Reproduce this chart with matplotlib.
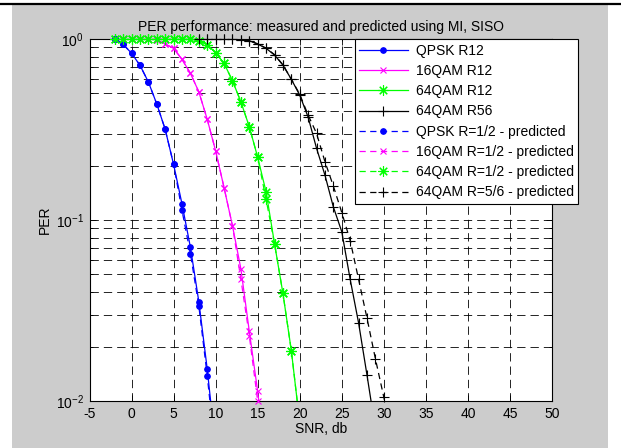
import matplotlib
matplotlib.use("Agg")
import matplotlib.pyplot as plt
from matplotlib.patches import Rectangle
from matplotlib.lines import Line2D
import numpy as np

plt.rcParams['font.family'] = ['Liberation Sans', 'DejaVu Sans']
plt.rcParams['mathtext.fontset'] = 'custom'
plt.rcParams['mathtext.rm'] = 'Liberation Sans'
plt.rcParams['mathtext.it'] = 'Liberation Sans'
plt.rcParams['lines.scale_dashes'] = False

# ---- data -------------------------------------------------------------
qpsk_snr = list(range(-2, 11))
qpsk_meas = [1.0, 0.935, 0.834, 0.716, 0.579, 0.4375, 0.317, 0.203, 0.1226, 0.0707, 0.0354, 0.0150, 0.0055]
qpsk_pred = [1.0, 0.935, 0.834, 0.716, 0.579, 0.4375, 0.317, 0.203, 0.113, 0.0651, 0.0335, 0.0138, 0.0050]

qam16_snr = list(range(-2, 17))
qam16_meas = [1, 1, 1, 1, 1, 0.99, 0.938, 0.888, 0.772, 0.646, 0.511, 0.36, 0.241, 0.151, 0.093,
              0.0538, 0.0243, 0.0113, 0.0045]
qam16_pred = [1, 1, 1, 1, 1, 0.99, 0.938, 0.888, 0.772, 0.646, 0.511, 0.36, 0.241, 0.151, 0.093,
              0.0472, 0.0230, 0.0100, 0.0040]

qam64_snr = list(range(-2, 21))
qam64_meas = [1, 1, 1, 1, 1, 1, 1, 1, 1, 1, 0.979, 0.930, 0.840, 0.734, 0.588, 0.450, 0.328, 0.222,
              0.143, 0.0741, 0.0394, 0.0190, 0.0076]
qam64_pred = [1, 1, 1, 1, 1, 1, 1, 1, 1, 1, 0.979, 0.930, 0.840, 0.734, 0.588, 0.450, 0.328, 0.222,
              0.130, 0.0741, 0.0394, 0.0190, 0.0076]

qam64r56_snr = list(range(8, 32))
qam64r56_meas = [1, 1, 1, 1, 1, 0.99, 0.979, 0.938, 0.888, 0.816, 0.718, 0.599, 0.49, 0.37, 0.249,
                 0.177, 0.118, 0.0862, 0.047, 0.027, 0.0139, 0.0070, 0.0035, 0.0018]
qam64r56_pred = [1, 1, 1, 1, 1, 0.99, 0.98, 0.94, 0.89, 0.82, 0.72, 0.60, 0.495, 0.38, 0.301,
                 0.210, 0.154, 0.110, 0.077, 0.047, 0.0287, 0.0171, 0.0105, 0.0060]

labels_meas = ["QPSK R12", "16QAM R12", "64QAM R12", "64QAM R56"]
labels_pred = ["QPSK R=1/2 - predicted", "16QAM R=1/2 - predicted",
               "64QAM R=1/2 - predicted", "64QAM R=5/6 - predicted"]
x_ticks = list(range(-5, 51, 5))

# ---- styling ----------------------------------------------------------
colors = ['#0000ff', '#ff00ff', '#00ff00', '#000000']
markers = ['o', 'x', (8, 2, 0), '+']
msizes = [4, 4.5, 7.5, 7.5]
pred_dash = (0, (4.5, 3.2))
grid_dash = (0, (6.0, 3.6))
YMIN, YMAX = 1e-2, 1.0

W, H = 621, 448
fig = plt.figure(figsize=(W / 100, H / 100), dpi=100, facecolor='white')
fig.patches.append(Rectangle((12 / W, 0), (608 - 12) / W, (H - 5) / H,
                             transform=fig.transFigure, facecolor='#cccccc',
                             edgecolor='none', zorder=-10))
fig.lines.append(Line2D([0, 1], [1 - 4.2 / H, 1 - 4.2 / H], transform=fig.transFigure,
                        color='black', linewidth=1.6))

ax = fig.add_axes([89.5 / W, (H - 401) / H, (552 - 89.5) / W, (401 - 39) / H])
ax.set_facecolor('white')

series_snr = [qpsk_snr, qam16_snr, qam64_snr, qam64r56_snr]
series_meas = [qpsk_meas, qam16_meas, qam64_meas, qam64r56_meas]
series_pred = [qpsk_pred, qam16_pred, qam64_pred, qam64r56_pred]


def draw(snr, per, i, ls, z):
    # curve clipped to the axes; markers of in-range points may overhang the frame
    ax.semilogy(snr, per, color=colors[i], lw=0.9, linestyle=ls, zorder=z)
    snr_a, per_a = np.asarray(snr, float), np.asarray(per, float)
    keep = (per_a >= YMIN) & (per_a <= YMAX)
    ax.semilogy(snr_a[keep], per_a[keep], linestyle='none', color=colors[i],
                marker=markers[i], ms=msizes[i], mew=0.8, clip_on=False, zorder=z + 0.1)
    return Line2D([], [], color=colors[i], lw=0.9, linestyle=ls,
                  marker=markers[i], ms=msizes[i], mew=0.8)


handles, labels = [], []
for i in range(4):
    handles.append(draw(series_snr[i], series_meas[i], i, '-', 3 + i * 0.2))
    labels.append(labels_meas[i])
for i in range(4):
    handles.append(draw(series_snr[i], series_pred[i], i, pred_dash, 4 + i * 0.2))
    labels.append(labels_pred[i])

ax.set_xlim(-5, 50)
ax.set_ylim(YMIN, YMAX)
ax.set_xticks(x_ticks)
ax.set_xticklabels([str(t) for t in x_ticks])
ax.grid(True, which='major', axis='both', color='black', linestyle=grid_dash, linewidth=0.6)
ax.grid(True, which='minor', axis='y', color='black', linestyle=grid_dash, linewidth=0.6)
ax.tick_params(axis='both', which='both', direction='in', top=True, right=True,
               labelsize=10, width=0.6, colors='black')
ax.tick_params(axis='both', which='major', length=4.5, pad=4)
ax.tick_params(axis='both', which='minor', length=2.5)
for s in ax.spines.values():
    s.set_linewidth(0.8)
    s.set_zorder(2.5)

ax.set_title("PER performance: measured and predicted using MI, SISO", fontsize=10, pad=6)
ax.set_xlabel("SNR, db", fontsize=10, labelpad=1)
ax.set_ylabel("PER", fontsize=10, labelpad=3)

leg = fig.legend(handles=handles, labels=labels, loc='upper right',
                 bbox_to_anchor=(578 / W, 1 - 39.5 / H),
                 bbox_transform=fig.transFigure, fontsize=10, numpoints=1,
                 handlelength=3.5, handletextpad=0.6, labelspacing=0.45, borderpad=0.3,
                 borderaxespad=0, fancybox=False, framealpha=1, edgecolor='black')
leg.get_frame().set_linewidth(0.8)
leg.set_zorder(10)

fig.savefig("out.png", dpi=100, facecolor=fig.get_facecolor())
